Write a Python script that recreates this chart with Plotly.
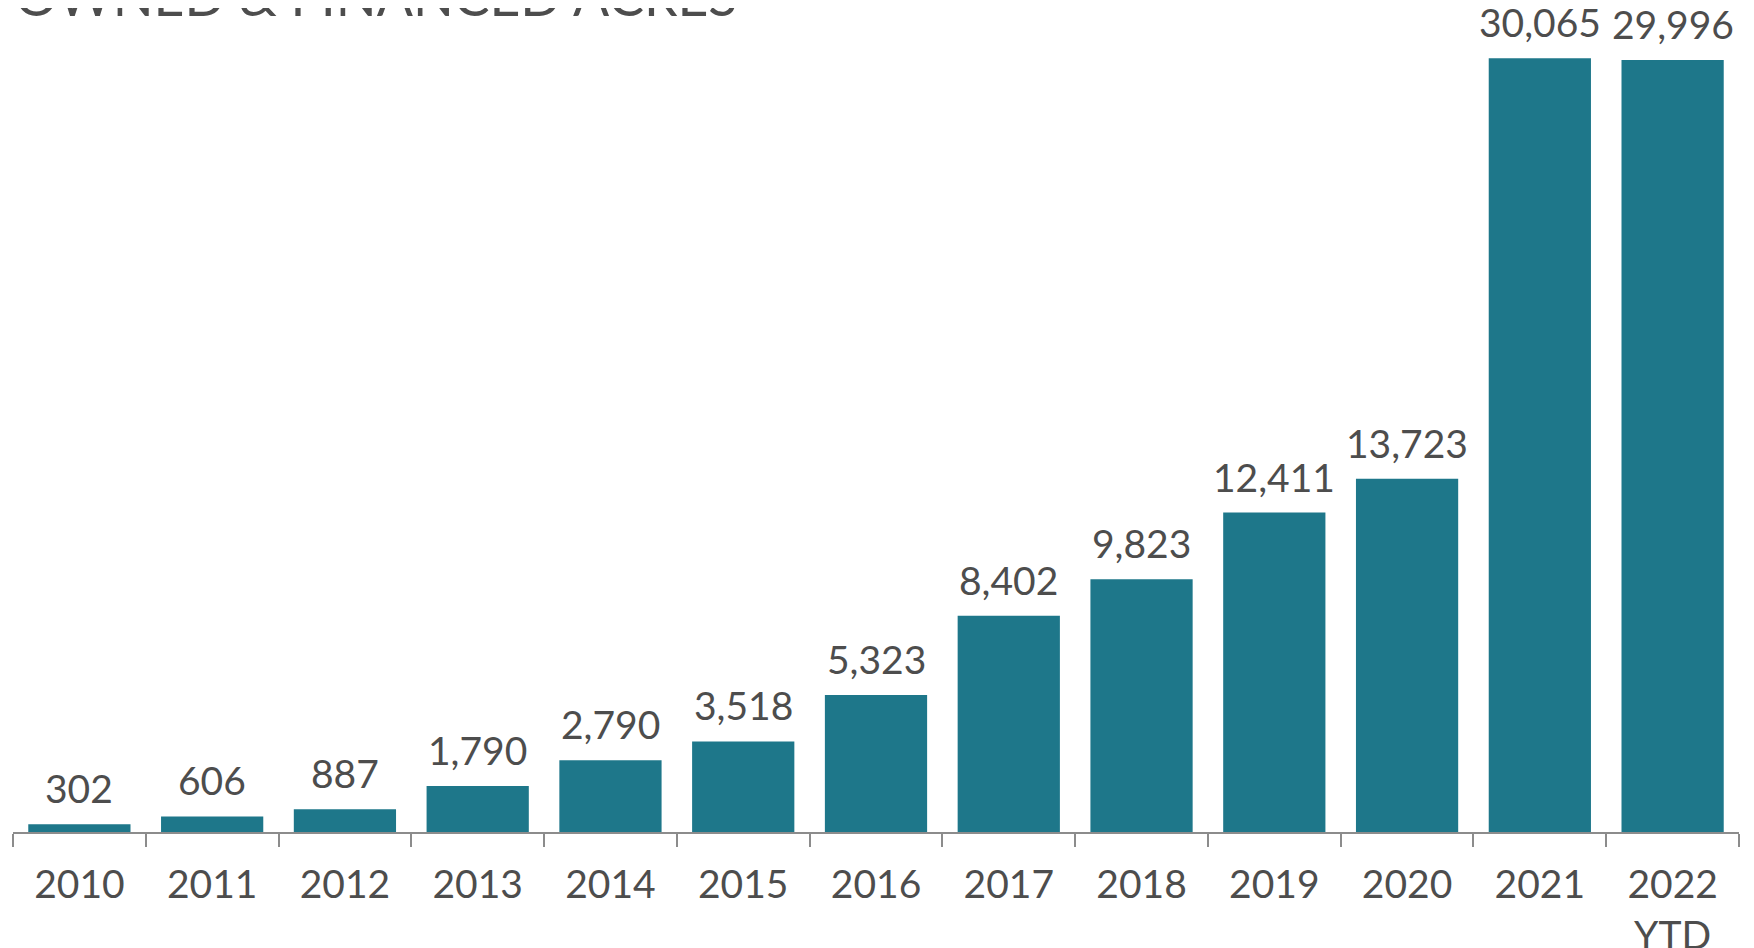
import plotly.graph_objects as go

categories = ["2010", "2011", "2012", "2013", "2014", "2015", "2016", "2017",
              "2018", "2019", "2020", "2021", "2022<br>YTD"]
acres = [302, 606, 887, 1790, 2790, 3518, 5323, 8402, 9823, 12411, 13723, 30065, 29996]
title_text = "OWNED & FINANCED ACRES"

BAR = "#1e778a"
TXT = "#4d4d4d"
AX = "#8c8c8c"

fig = go.Figure(go.Bar(
    x=categories, y=acres,
    marker=dict(color=BAR, line=dict(width=0)),
    cliponaxis=False,
))

annotations = []
for i, v in enumerate(acres):
    annotations.append(dict(
        x=i, y=v, xref="x", yref="y", text=f"{v:,}", showarrow=False,
        xanchor="center", yanchor="bottom", yshift=11,
        font=dict(family="Lato", size=39, color=TXT),
    ))
annotations.append(dict(
    text=title_text, xref="paper", yref="paper", x=0, y=1 + 11 / 792,
    xanchor="left", yanchor="bottom", showarrow=False,
    font=dict(family="Lato", size=53.5, color=TXT),
))

fig.update_layout(
    width=1746, height=940,
    margin=dict(l=5, r=15, t=32, b=116, autoexpand=False),
    paper_bgcolor="white", plot_bgcolor="white",
    bargap=0.23,
    showlegend=False,
    font=dict(family="Lato", color=TXT),
    annotations=annotations,
    xaxis=dict(
        type="category", categoryorder="array", categoryarray=categories,
        automargin=False,
        showline=True, linecolor=AX, linewidth=2,
        ticks="outside", tickson="boundaries", ticklen=13, tickwidth=2, tickcolor=AX,
        ticklabelstandoff=17,
        tickfont=dict(family="Lato", size=39, color=TXT),
        showgrid=False, zeroline=False,
    ),
    yaxis=dict(
        range=[0, 30776], visible=False, showgrid=False, zeroline=False, automargin=False,
    ),
)

fig.write_html("out.html")
